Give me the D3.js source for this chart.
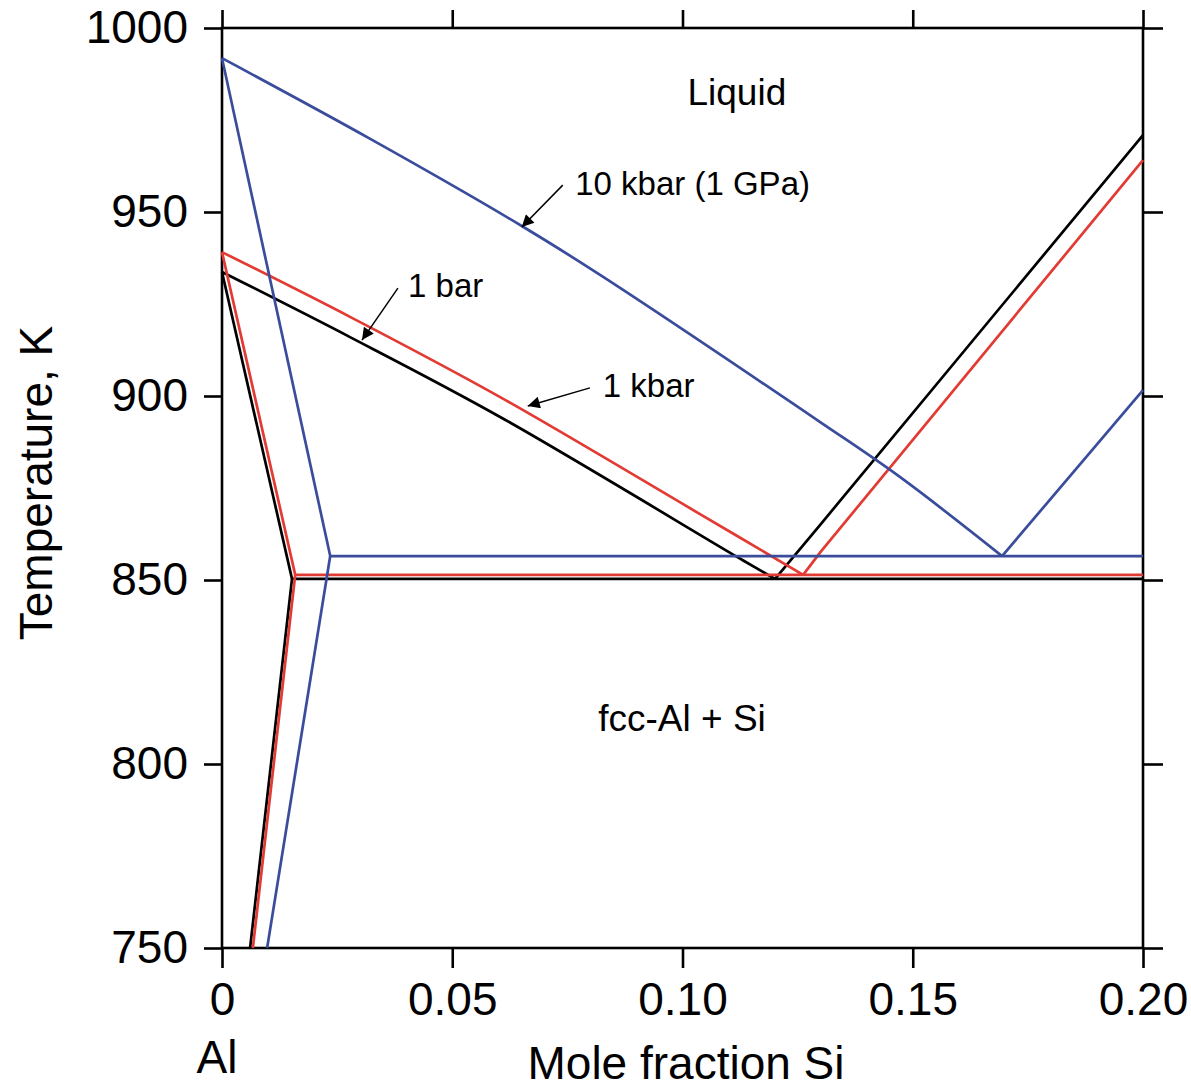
<!DOCTYPE html>
<html>
<head>
<meta charset="utf-8">
<script src="https://cdn.jsdelivr.net/npm/d3@7"></script>
<style>
  body { margin: 0; background: #fff; }
  svg { display: block; font-family: "Liberation Sans", Arial, sans-serif; }
</style>
</head>
<body>
<svg id="chart" width="1191" height="1091"></svg>
<script>
// Al-Si phase diagram at three pressures
// [mole fraction Si, temperature K]

var xTicks = [0, 0.05, 0.10, 0.15, 0.20]
var xTickLabels = ["0", "0.05", "0.10", "0.15", "0.20"]
var yTicks = [750, 800, 850, 900, 950, 1000]

// 1 bar (black)
var bar1Liquidus  = [[0, 933.7], [0.0278, 916.0], [0.0604, 894.3], [0.1125, 855.8], [0.1201, 850.3]]
var bar1SiLiquid  = [[0.1201, 850.3], [0.1299, 865.0], [0.2, 970.9]]
var bar1Solidus   = [[0, 933.7], [0.0152, 850.3]]
var bar1Solvus    = [[0.0152, 850.3], [0.0061, 750]]
var bar1Eutectic  = [[0.0152, 850.3], [0.2, 850.3]]

// 1 kbar (red)
var kbar1Liquidus = [[0, 939.1], [0.0278, 921.5], [0.0604, 899.7], [0.1038, 867.9], [0.1262, 851.4]]
var kbar1SiLiquid = [[0.1262, 851.4], [0.1299, 857.5], [0.2, 964.1]]
var kbar1Solidus  = [[0, 939.1], [0.0159, 851.4]]
var kbar1Solvus   = [[0.0159, 851.4], [0.0067, 750]]
var kbar1Eutectic = [[0.0159, 851.4], [0.2, 851.4]]

// 10 kbar (blue)
var kbar10Liquidus = [[0, 991.8], [0.032, 970.0], [0.0651, 946.2], [0.0821, 932.9], [0.1299, 892.9], [0.1472, 878.0], [0.1694, 856.5]]
var kbar10SiLiquid = [[0.1694, 856.5], [0.2, 901.6]]
var kbar10Solidus  = [[0, 991.8], [0.0235, 856.5]]
var kbar10Solvus   = [[0.0235, 856.5], [0.0098, 750]]
var kbar10Eutectic = [[0.0235, 856.5], [0.2, 856.5]]

var seriesNames  = ["1 bar", "1 kbar", "10 kbar"]
var seriesColors = ["#000000", "#e23b33", "#3a4c9c"]

// annotations: label, text position, arrow start, arrow tip
var notes = [
  {text: "10 kbar (1 GPa)", at: [0.0767, 954.6], from: [0.0740, 957.3], to: [0.0651, 945.9]},
  {text: "1 bar",           at: [0.0404, 926.9], from: [0.0382, 929.3], to: [0.0304, 915.2]},
  {text: "1 kbar",          at: [0.0827, 899.7], from: [0.0799, 902.2], to: [0.0664, 897.3]}
]
var regionLabels = [
  {text: "Liquid",      at: [0.1118, 979.1]},
  {text: "fcc-Al + Si", at: [0.0999, 809.0]}
]

var svg = d3.select("#chart")

var x = d3.scaleLinear().domain([0, 0.2]).range([222, 1143])
var y = d3.scaleLinear().domain([750, 1000]).range([948, 28])

var tickFont = 46

// axes, ticks pointing outwards on all four sides
svg.append("g")
    .attr("transform", "translate(0," + y(750) + ")")
    .call(d3.axisBottom(x).tickValues(xTicks)
        .tickFormat(function(d, i) { return xTickLabels[i]; })
        .tickSize(20).tickPadding(14))
svg.append("g")
    .attr("transform", "translate(" + x(0) + ",0)")
    .call(d3.axisLeft(y).tickValues(yTicks).tickFormat(d3.format("d"))
        .tickSize(18).tickPadding(16))
svg.append("g")
    .attr("transform", "translate(0," + y(1000) + ")")
    .call(d3.axisTop(x).tickValues(xTicks).tickFormat("").tickSize(18))
svg.append("g")
    .attr("transform", "translate(" + x(0.2) + ",0)")
    .call(d3.axisRight(y).tickValues(yTicks).tickFormat("").tickSize(20))

svg.selectAll(".domain").remove()
svg.selectAll(".tick line").attr("stroke", "#000").attr("stroke-width", 2.6)
svg.selectAll(".tick text")
    .attr("fill", "#000")
    .style("font-size", tickFont + "px")

svg.append("rect")
    .attr("x", x(0))
    .attr("y", y(1000))
    .attr("width", x(0.2) - x(0))
    .attr("height", y(750) - y(1000))
    .attr("fill", "none")
    .attr("stroke", "#000")
    .attr("stroke-width", 2.6)

// phase boundaries
var line = d3.line()
    .x(function(d) { return x(d[0]); })
    .y(function(d) { return y(d[1]); })
var curve = d3.line()
    .x(function(d) { return x(d[0]); })
    .y(function(d) { return y(d[1]); })
    .curve(d3.curveCatmullRom.alpha(0.5))

var groups = [
  [bar1Liquidus, bar1SiLiquid, bar1Solidus, bar1Solvus, bar1Eutectic],
  [kbar1Liquidus, kbar1SiLiquid, kbar1Solidus, kbar1Solvus, kbar1Eutectic],
  [kbar10Liquidus, kbar10SiLiquid, kbar10Solidus, kbar10Solvus, kbar10Eutectic]
]

groups.forEach(function(g, i) {
  svg.append("g")
      .attr("class", "series")
      .attr("data-name", seriesNames[i])
    .selectAll("path")
    .data(g)
    .join("path")
      // the Al-side liquidus is drawn smooth, everything else straight
      .attr("d", function(d, j) { return j == 0 ? curve(d) : line(d); })
      .attr("fill", "none")
      .attr("stroke", seriesColors[i])
      .attr("stroke-width", 2.7)
      .attr("stroke-linejoin", "miter")
})

// arrows
svg.append("defs").append("marker")
    .attr("id", "head")
    .attr("viewBox", "0 0 10 10")
    .attr("refX", 10)
    .attr("refY", 5)
    .attr("markerWidth", 18)
    .attr("markerHeight", 12)
    .attr("markerUnits", "userSpaceOnUse")
    .attr("orient", "auto")
  .append("path")
    .attr("d", "M0,0 L10,5 L0,10 Z")
    .attr("fill", "#000")

svg.selectAll(".arrow")
    .data(notes)
    .join("line")
    .attr("class", "arrow")
    .attr("x1", function(d) { return x(d.from[0]); })
    .attr("y1", function(d) { return y(d.from[1]); })
    .attr("x2", function(d) { return x(d.to[0]); })
    .attr("y2", function(d) { return y(d.to[1]); })
    .attr("stroke", "#000")
    .attr("stroke-width", 1.5)
    .attr("marker-end", "url(#head)")

svg.selectAll(".note")
    .data(notes)
    .join("text")
    .attr("class", "note")
    .attr("x", function(d) { return x(d.at[0]); })
    .attr("y", function(d) { return y(d.at[1]); })
    .style("font-size", "33px")
    .text(function(d) { return d.text; })

svg.selectAll(".region")
    .data(regionLabels)
    .join("text")
    .attr("class", "region")
    .attr("x", function(d) { return x(d.at[0]); })
    .attr("y", function(d) { return y(d.at[1]); })
    .attr("text-anchor", "middle")
    .style("font-size", "37px")
    .text(function(d) { return d.text; })

// axis titles
svg.append("text")
    .attr("x", x(0) - 5)
    .attr("y", 1073)
    .attr("text-anchor", "middle")
    .style("font-size", tickFont + "px")
    .text("Al")

svg.append("text")
    .attr("x", 686)
    .attr("y", 1079)
    .attr("text-anchor", "middle")
    .style("font-size", tickFont + "px")
    .text("Mole fraction Si")

svg.append("text")
    .attr("transform", "translate(52," + 483 + ") rotate(-90)")
    .attr("text-anchor", "middle")
    .style("font-size", tickFont + "px")
    .text("Temperature, K")
</script>
</body>
</html>
